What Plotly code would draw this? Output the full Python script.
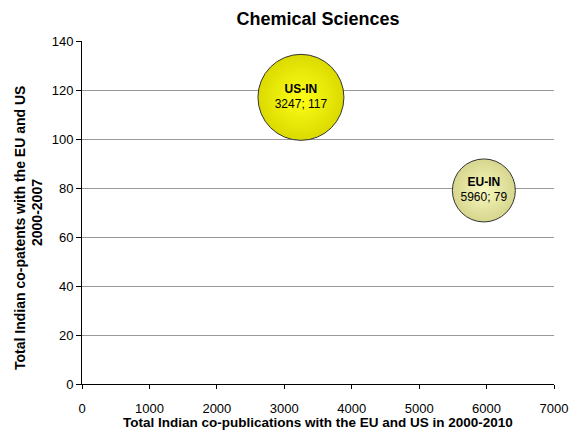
import plotly.graph_objects as go

# Co-publication / co-patent pairs
pairs = ["US-IN", "EU-IN"]
publications = [3247, 5960]
patents = [117, 79]

x_ticks = [0, 1000, 2000, 3000, 4000, 5000, 6000, 7000]
y_ticks = [0, 20, 40, 60, 80, 100, 120, 140]

labels = [f"<b>{p}</b><br>{x}; {y}" for p, x, y in zip(pairs, publications, patents)]

FONT = "Liberation Sans, Arial, sans-serif"

# plot area in pixels
W, H = 571, 437
L, R, T, B = 82, 554, 41, 384


def px_to_paper(px, py):
    return (px - L) / (R - L), (B - py) / (B - T)


fig = go.Figure()
fig.add_trace(go.Scatter(
    x=publications,
    y=patents,
    mode="markers+text",
    text=labels,
    textposition="middle center",
    textfont=dict(family=FONT, size=12, color="black"),
    marker=dict(
        size=[86, 63],
        color=["#DADA00", "#D6D68E"],
        gradient=dict(type="radial", color=["#FFFF18", "#F8F8BE"]),
        line=dict(color="#333333", width=1),
        opacity=1,
    ),
    hoverinfo="skip",
    showlegend=False,
))

tick_font = dict(family=FONT, size=13, color="black")
title_font = dict(family=FONT, size=13.5, color="black")

fig.update_layout(
    width=W,
    height=H,
    margin=dict(l=L, r=W - R, t=T, b=H - B),
    paper_bgcolor="white",
    plot_bgcolor="white",
    title=dict(
        text="<b>Chemical Sciences</b>",
        x=(L + R) / 2 / W,
        xanchor="center",
        y=1 - 19 / H,
        yanchor="middle",
        font=dict(family=FONT, size=18, color="black"),
    ),
    xaxis=dict(
        range=[0, 7000],
        tickvals=x_ticks,
        showgrid=False,
        zeroline=False,
        showline=True,
        linecolor="black",
        linewidth=1,
        ticks="outside",
        ticklen=4,
        tickcolor="black",
        tickfont=tick_font,
        ticklabelstandoff=8,
        automargin=False,
    ),
    yaxis=dict(
        range=[0, 140],
        tickvals=y_ticks,
        showgrid=True,
        gridcolor="#999999",
        gridwidth=1,
        zeroline=False,
        showline=True,
        linecolor="black",
        linewidth=1,
        ticks="outside",
        ticklen=5,
        tickcolor="black",
        tickfont=tick_font,
        automargin=False,
    ),
)

# axis titles
xt_x, xt_y = px_to_paper((L + R) / 2, 422)
fig.add_annotation(
    text="<b>Total Indian co-publications with the EU and US in 2000-2010</b>",
    x=xt_x, y=xt_y, xref="paper", yref="paper",
    xanchor="center", yanchor="middle", showarrow=False, font=title_font,
)
for line, px, py in [
    ("<b>Total Indian co-patents with the EU and US</b>", 20, 228),
    ("<b>2000-2007</b>", 37, 213),
]:
    ax, ay = px_to_paper(px, py)
    fig.add_annotation(
        text=line, x=ax, y=ay, xref="paper", yref="paper",
        xanchor="center", yanchor="middle", textangle=-90,
        showarrow=False, font=dict(family=FONT, size=14, color="black"),
    )

fig.write_html("out.html")
